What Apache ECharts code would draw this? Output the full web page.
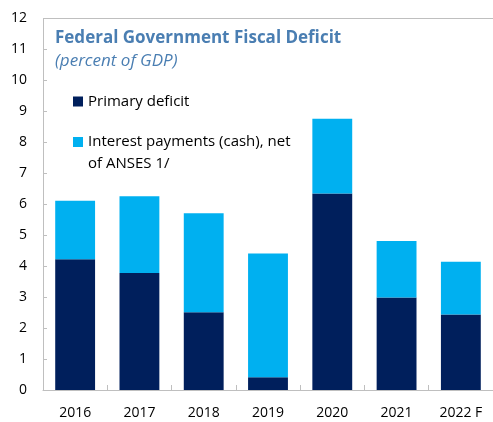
<!DOCTYPE html>
<html>
<head>
<meta charset="utf-8">
<script src="https://cdn.jsdelivr.net/npm/echarts@6/dist/echarts.min.js"></script>
<style>
  html, body { margin: 0; padding: 0; background: #fff; }
  #chart { width: 493px; height: 422px; }
</style>
</head>
<body>
<div id="chart"></div>
<script>
// Federal government fiscal deficit, percent of GDP
const years = ['2016', '2017', '2018', '2019', '2020', '2021', '2022 F'];
const primaryDeficit = [4.22, 3.78, 2.51, 0.41, 6.35, 2.99, 2.44];
const interestNet = [1.89, 2.48, 3.20, 4.00, 2.41, 1.82, 1.70];
const yTicks = [0, 1, 2, 3, 4, 5, 6, 7, 8, 9, 10, 11, 12];

const FONT = '"Open Sans", "Noto Sans", sans-serif';
const GRAY = '#bfbfbf';
const TITLE_BLUE = '#4a7eb2';

const chart = echarts.init(document.getElementById('chart'), null, { renderer: 'canvas' });

// Square icon sitting at the top of a taller box, so it lines up with the
// first line of a two-line legend label.
const topSquare = 'path://M0,0L10,0L10,10L0,10Z M0,32';

// Only the top split line (at the axis maximum) is drawn, as the frame's upper edge.
const splitColors = yTicks.map((t, i) => (i === yTicks.length - 1 ? GRAY : 'rgba(0,0,0,0)'));

chart.setOption({
  animation: false,
  textStyle: { fontFamily: FONT },
  title: {
    text: 'Federal Government Fiscal Deficit',
    subtext: '(percent of GDP)',
    left: 50,
    top: 25,
    itemGap: 6,
    textStyle: { fontFamily: FONT, fontSize: 17, fontWeight: 'bold', color: TITLE_BLUE },
    subtextStyle: { fontFamily: FONT, fontSize: 17, fontStyle: 'italic', color: TITLE_BLUE }
  },
  legend: [
    {
      data: ['Primary deficit'],
      left: 73,
      top: 94,
      padding: 0,
      icon: 'rect',
      itemWidth: 10,
      itemHeight: 10,
      textStyle: { fontFamily: FONT, fontSize: 15, color: '#000' }
    },
    {
      data: [{ name: 'Interest payments (cash), net of ANSES 1/', icon: topSquare }],
      left: 73,
      top: 131,
      padding: 0,
      itemWidth: 10,
      itemHeight: 32,
      formatter: () => 'Interest payments (cash), net\nof ANSES 1/',
      textStyle: { fontFamily: FONT, fontSize: 15, color: '#000', lineHeight: 22 }
    }
  ],
  grid: { left: 43, right: 0, top: 18.5, bottom: 32 },
  xAxis: {
    type: 'category',
    data: years,
    boundaryGap: true,
    axisLine: { show: true, lineStyle: { color: GRAY } },
    axisTick: { show: true, inside: true, length: 5, lineStyle: { color: GRAY } },
    axisLabel: { color: '#000', fontSize: 14, margin: 16, fontFamily: FONT }
  },
  yAxis: {
    type: 'value',
    min: yTicks[0],
    max: yTicks[yTicks.length - 1],
    interval: 1,
    splitLine: { show: true, lineStyle: { color: splitColors, width: 1 } },
    axisLine: { show: true, lineStyle: { color: GRAY } },
    axisTick: { show: true, inside: true, length: 4, lineStyle: { color: GRAY } },
    axisLabel: { color: '#000', fontSize: 14, margin: 16, fontFamily: FONT }
  },
  series: [
    {
      name: 'Primary deficit',
      type: 'bar',
      stack: 'deficit',
      data: primaryDeficit,
      barWidth: '62%',
      itemStyle: { color: '#001f5c' }
    },
    {
      name: 'Interest payments (cash), net of ANSES 1/',
      type: 'bar',
      stack: 'deficit',
      data: interestNet,
      barWidth: '62%',
      itemStyle: { color: '#00b0f0' }
    }
  ]
});
</script>
</body>
</html>
